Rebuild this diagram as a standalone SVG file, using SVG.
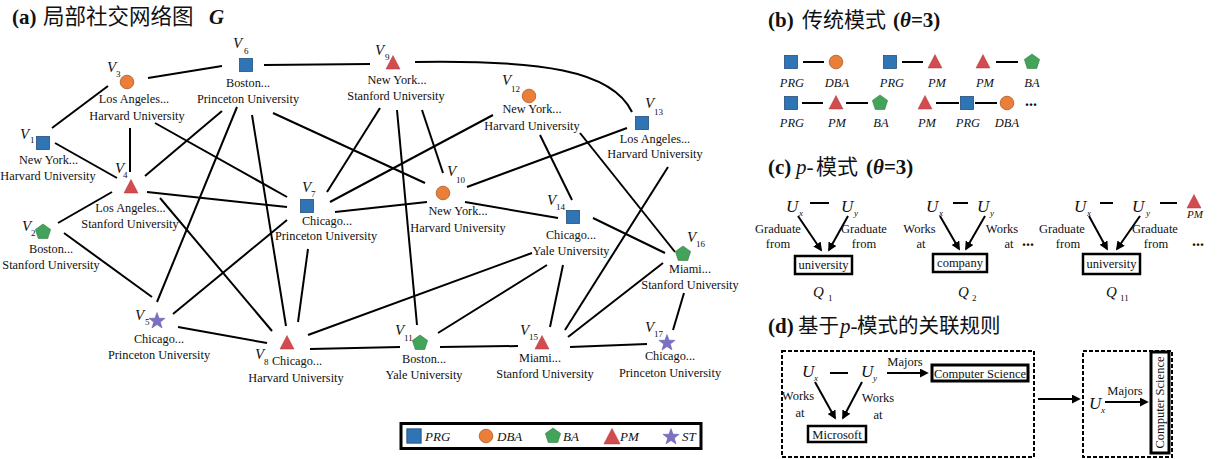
<svg xmlns="http://www.w3.org/2000/svg" width="1219" height="459" viewBox="0 0 1219 459" font-family="'Liberation Serif', 'DejaVu Serif', 'Times New Roman', serif">
<style>
text{font-family:'Liberation Serif','DejaVu Serif','Times New Roman',serif;fill:#111}
.nl{font-size:12.3px;text-anchor:middle}
.v{font-size:15px;font-style:italic}
.s{font-size:9px}
text.cn{font-family:'Noto Sans CJK SC','Noto Sans',sans-serif}
.b{font-weight:bold}
.it{font-style:italic}
.lbl{font-size:12.5px;text-anchor:middle}
.ilbl{font-size:12.5px;font-style:italic;text-anchor:middle}
.U{font-size:17px;font-style:italic}
.us{font-size:9px;font-style:italic}
.ed line,.ed path{stroke:#000;stroke-width:2;fill:none}
.ln{stroke:#000;stroke-width:2}
.arr{stroke:#000;stroke-width:2;marker-end:url(#ah)}
.bx{fill:#fff;stroke:#000;stroke-width:2.5}
.dash{fill:none;stroke:#000;stroke-width:2;stroke-dasharray:4 2}
</style>
<defs>
<rect id="sq" x="-6.5" y="-6.5" width="13" height="13" fill="#2F74B5" stroke="#23507c" stroke-width="0.8"/>
<circle id="ci" r="6.8" fill="#EB7F3A" stroke="#a85a22" stroke-width="0.8"/>
<polygon id="pe" points="0,-8 7.61,-2.47 4.7,6.47 -4.7,6.47 -7.61,-2.47" fill="#43A35A" stroke="#2f7a41" stroke-width="0.6"/>
<polygon id="tr" points="0,-7.5 7,6 -7,6" fill="#D24B4F" stroke="#b03a3e" stroke-width="0.5"/>
<polygon id="st" points="0,-8.5 2.06,-2.83 8.08,-2.63 3.33,1.08 5,6.88 0,3.5 -5,6.88 -3.33,1.08 -8.08,-2.63 -2.06,-2.83" fill="#7B70C2" stroke="#5d54a0" stroke-width="0.5"/>
<marker id="ah" viewBox="0 0 10 10" refX="8" refY="5" markerWidth="4.5" markerHeight="4.5" orient="auto" markerUnits="strokeWidth"><path d="M0,0 L10,5 L0,10 z" fill="#000"/></marker>
</defs>
<rect width="1219" height="459" fill="#fff"/>

<g id="title-a">
<text x="12" y="24" font-size="21" class="b">(a)</text>
<text x="43" y="24" font-size="21.5" class="cn">局部社交网络图</text>
<text x="209" y="24" font-size="21" class="b it">G</text>
</g>

<g id="connectors" class="ed">
<line x1="52" y1="128" x2="108" y2="86"/>
<line x1="148" y1="78" x2="222" y2="66"/>
<line x1="264" y1="65" x2="370" y2="64"/>
<path d="M415,62 C540,60 612,70 632,112"/>
<line x1="130" y1="128" x2="130" y2="172"/>
<line x1="55" y1="143" x2="117" y2="178"/>
<line x1="112" y1="192" x2="58" y2="223"/>
<line x1="64" y1="233" x2="152" y2="297"/>
<line x1="145" y1="176" x2="222" y2="111"/>
<line x1="155" y1="123" x2="287" y2="197"/>
<line x1="147" y1="192" x2="287" y2="207"/>
<line x1="160" y1="198" x2="272" y2="331"/>
<line x1="237" y1="107" x2="157" y2="302"/>
<line x1="252" y1="115" x2="286" y2="326"/>
<line x1="273" y1="113" x2="425" y2="183"/>
<line x1="173" y1="314" x2="287" y2="220"/>
<line x1="308" y1="249" x2="298" y2="322"/>
<line x1="327" y1="192" x2="380" y2="108"/>
<line x1="330" y1="202" x2="493" y2="115"/>
<line x1="335" y1="212" x2="427" y2="202"/>
<line x1="422" y1="110" x2="443" y2="173"/>
<line x1="397" y1="110" x2="417" y2="325"/>
<line x1="467" y1="187" x2="627" y2="128"/>
<line x1="465" y1="202" x2="558" y2="218"/>
<line x1="540" y1="135" x2="572" y2="200"/>
<line x1="580" y1="133" x2="675" y2="252"/>
<line x1="668" y1="167" x2="565" y2="330"/>
<line x1="593" y1="218" x2="665" y2="253"/>
<line x1="563" y1="265" x2="550" y2="327"/>
<line x1="547" y1="265" x2="438" y2="333"/>
<line x1="308" y1="335" x2="532" y2="253"/>
<line x1="663" y1="263" x2="568" y2="337"/>
<line x1="684" y1="293" x2="673" y2="330"/>
<line x1="570" y1="347" x2="647" y2="344"/>
<line x1="440" y1="347" x2="518" y2="346"/>
<line x1="310" y1="349" x2="400" y2="347"/>
<line x1="178" y1="327" x2="267" y2="343"/>
</g>

<g id="v1"><use href="#sq" x="43" y="143"/><text class="v" x="20" y="139">V</text><text class="s" x="30" y="143">1</text>
<text class="nl" x="48.5" y="164">New York...</text><text class="nl" x="48" y="180">Harvard University</text></g>
<g id="v2"><use href="#pe" x="43" y="232"/><text class="v" x="22" y="231">V</text><text class="s" x="31" y="236">2</text>
<text class="nl" x="51" y="253">Boston...</text><text class="nl" x="51" y="269">Stanford University</text></g>
<g id="v3"><use href="#ci" x="127" y="82"/><text class="v" x="107" y="72">V</text><text class="s" x="116" y="77">3</text>
<text class="nl" x="134" y="103">Los Angeles...</text><text class="nl" x="137" y="120">Harvard University</text></g>
<g id="v4"><use href="#tr" x="131" y="187"/><text class="v" x="115" y="173">V</text><text class="s" x="123" y="178">4</text>
<text class="nl" x="130.5" y="212">Los Angeles...</text><text class="nl" x="130" y="228">Stanford University</text></g>
<g id="v5"><use href="#st" x="157" y="321"/><text class="v" x="135" y="320">V</text><text class="s" x="145" y="325">5</text>
<text class="nl" x="159" y="343">Chicago...</text><text class="nl" x="159" y="359">Princeton University</text></g>
<g id="v6"><use href="#sq" x="246" y="65"/><text class="v" x="233" y="48">V</text><text class="s" x="244" y="54">6</text>
<text class="nl" x="248" y="87">Boston...</text><text class="nl" x="248" y="103">Princeton University</text></g>
<g id="v7"><use href="#sq" x="307" y="206"/><text class="v" x="302" y="192">V</text><text class="s" x="311" y="197">7</text>
<text class="nl" x="327" y="225">Chicago...</text><text class="nl" x="326" y="240">Princeton University</text></g>
<g id="v8"><use href="#tr" x="287" y="343"/><text class="v" x="255" y="359">V</text><text class="s" x="264" y="365">8</text>
<text class="nl" x="297" y="365">Chicago...</text><text class="nl" x="296" y="382">Harvard University</text></g>
<g id="v9"><use href="#tr" x="393" y="63"/><text class="v" x="375" y="55">V</text><text class="s" x="385" y="60">9</text>
<text class="nl" x="397" y="84">New York...</text><text class="nl" x="396" y="100">Stanford University</text></g>
<g id="v10"><use href="#ci" x="443" y="193"/><text class="v" x="447" y="176">V</text><text class="s" x="456" y="183">10</text>
<text class="nl" x="458" y="215">New York...</text><text class="nl" x="458" y="232">Harvard University</text></g>
<g id="v11"><use href="#pe" x="420" y="343"/><text class="v" x="395" y="335">V</text><text class="s" x="404" y="341">11</text>
<text class="nl" x="424" y="363">Boston...</text><text class="nl" x="424" y="379">Yale University</text></g>
<g id="v12"><use href="#ci" x="529" y="96"/><text class="v" x="502" y="85">V</text><text class="s" x="511" y="92">12</text>
<text class="nl" x="532" y="113">New York...</text><text class="nl" x="532" y="130">Harvard University</text></g>
<g id="v13"><use href="#sq" x="642" y="123"/><text class="v" x="645" y="108">V</text><text class="s" x="654" y="115">13</text>
<text class="nl" x="655" y="143">Los Angeles...</text><text class="nl" x="655" y="158">Harvard University</text></g>
<g id="v14"><use href="#sq" x="573" y="217"/><text class="v" x="547" y="205">V</text><text class="s" x="556" y="210">14</text>
<text class="nl" x="571" y="239">Chicago...</text><text class="nl" x="571" y="255">Yale University</text></g>
<g id="v15"><use href="#tr" x="542" y="343"/><text class="v" x="520" y="335">V</text><text class="s" x="529" y="340">15</text>
<text class="nl" x="540" y="362">Miami...</text><text class="nl" x="545" y="378">Stanford University</text></g>
<g id="v16"><use href="#pe" x="683" y="254"/><text class="v" x="687" y="242">V</text><text class="s" x="696" y="247">16</text>
<text class="nl" x="690" y="273">Miami...</text><text class="nl" x="690" y="289">Stanford University</text></g>
<g id="v17"><use href="#st" x="667" y="343"/><text class="v" x="645" y="332">V</text><text class="s" x="654" y="337">17</text>
<text class="nl" x="670" y="360">Chicago...</text><text class="nl" x="670" y="377">Princeton University</text></g>

<g id="legend">
<rect x="401" y="423.5" width="300" height="25" fill="#fff" stroke="#000" stroke-width="3"/>
<use href="#sq" x="414" y="436" transform="translate(414,436) scale(1.1) translate(-414,-436)"/>
<text x="425" y="441" font-size="13" class="it">PRG</text>
<use href="#ci" x="486" y="436"/>
<text x="497" y="441" font-size="13" class="it">DBA</text>
<use href="#pe" x="553" y="436"/>
<text x="563" y="441" font-size="13" class="it">BA</text>
<use href="#tr" x="612" y="437" transform="translate(612,437) scale(1.15) translate(-612,-437)"/>
<text x="620" y="441" font-size="13" class="it">PM</text>
<use href="#st" x="671" y="437"/>
<text x="682" y="441" font-size="13" class="it">ST</text>
</g>

<g id="panel-b">
<text x="768" y="27" font-size="21" class="b">(b)</text>
<text x="802" y="27" font-size="21" class="cn">传统模式</text>
<text x="893" y="27" font-size="21" class="b">(<tspan class="it">θ</tspan>=3)</text>
<use href="#sq" x="791" y="62"/><line class="ln" x1="803" y1="62" x2="824" y2="62"/><use href="#ci" x="836" y="62"/>
<use href="#sq" x="890" y="62"/><line class="ln" x1="902" y1="62" x2="923" y2="62"/><use href="#tr" x="935" y="62"/>
<use href="#tr" x="983" y="62"/><line class="ln" x1="996" y1="62" x2="1018" y2="62"/><use href="#pe" x="1032" y="62"/>
<text class="ilbl" x="792" y="87">PRG</text><text class="ilbl" x="837" y="87">DBA</text>
<text class="ilbl" x="892" y="87">PRG</text><text class="ilbl" x="937" y="87">PM</text>
<text class="ilbl" x="985" y="87">PM</text><text class="ilbl" x="1032" y="87">BA</text>
<use href="#sq" x="791" y="103"/><line class="ln" x1="802" y1="103" x2="823" y2="103"/><use href="#tr" x="836" y="103"/>
<line class="ln" x1="846" y1="103" x2="868" y2="103"/><use href="#pe" x="880" y="103"/>
<use href="#tr" x="925" y="103"/><line class="ln" x1="936" y1="103" x2="959" y2="103"/><use href="#sq" x="967" y="103"/>
<line class="ln" x1="975" y1="103" x2="997" y2="103"/><use href="#ci" x="1007" y="103"/>
<text x="1025" y="106" font-size="16" class="b">...</text>
<text class="ilbl" x="792" y="127">PRG</text><text class="ilbl" x="837" y="127">PM</text><text class="ilbl" x="881" y="127">BA</text>
<text class="ilbl" x="927" y="127">PM</text><text class="ilbl" x="968" y="127">PRG</text><text class="ilbl" x="1007" y="127">DBA</text>
</g>

<g id="panel-c">
<text x="768" y="174" font-size="21" class="b">(c)</text>
<text x="796" y="174" font-size="21" class="it">p-</text>
<text x="816" y="174" font-size="21" class="cn">模式</text>
<text x="866" y="174" font-size="21" class="b">(<tspan class="it">θ</tspan>=3)</text>
</g>
<g id="q1">
<text class="U" x="786" y="212">U</text><text class="us" x="799" y="216">x</text>
<line class="ln" x1="810" y1="203" x2="829" y2="203"/>
<text class="U" x="841" y="212">U</text><text class="us" x="854" y="216">y</text>
<line class="arr" x1="798" y1="216" x2="821" y2="250"/>
<line class="arr" x1="848" y1="216" x2="829" y2="250"/>
<text class="lbl" x="778" y="233">Graduate</text><text class="lbl" x="778" y="248">from</text>
<text class="lbl" x="864" y="233">Graduate</text><text class="lbl" x="864" y="248">from</text>
<rect class="bx" x="795" y="256" width="57" height="18"/>
<text class="lbl" x="823.5" y="269">university</text>
<text x="813" y="297" font-size="15" class="it">Q</text><text class="s" x="828" y="301">1</text>
</g>
<g id="q2">
<text class="U" x="926" y="212">U</text><text class="us" x="939" y="216">x</text>
<line class="ln" x1="953" y1="203" x2="968" y2="203"/>
<text class="U" x="977" y="212">U</text><text class="us" x="990" y="216">y</text>
<line class="arr" x1="940" y1="216" x2="959" y2="249"/>
<line class="arr" x1="985" y1="216" x2="966" y2="249"/>
<text class="lbl" x="919.5" y="233">Works</text><text class="lbl" x="921" y="248">at</text>
<text class="lbl" x="1002" y="233">Works</text><text class="lbl" x="1009" y="248">at</text>
<rect class="bx" x="933" y="254" width="54" height="18"/>
<text class="lbl" x="960" y="267">company</text>
<text x="958" y="297" font-size="15" class="it">Q</text><text class="s" x="972" y="301">2</text>
<text x="1022" y="246" font-size="16" class="b">...</text>
</g>
<g id="q11">
<text class="U" x="1074" y="212">U</text><text class="us" x="1087" y="216">x</text>
<line class="ln" x1="1100" y1="203" x2="1113" y2="203"/>
<text class="U" x="1132" y="212">U</text><text class="us" x="1146" y="216">y</text>
<line class="ln" x1="1160" y1="203" x2="1177" y2="203"/>
<use href="#tr" x="1194" y="202"/>
<text x="1195" y="218" font-size="11" class="it" text-anchor="middle">PM</text>
<line class="arr" x1="1089" y1="216" x2="1107" y2="249"/>
<line class="arr" x1="1140" y1="216" x2="1117" y2="249"/>
<text class="lbl" x="1062" y="233">Graduate</text><text class="lbl" x="1068" y="248">from</text>
<text class="lbl" x="1155" y="233">Graduate</text><text class="lbl" x="1156" y="248">from</text>
<rect class="bx" x="1083" y="254" width="57" height="20"/>
<text class="lbl" x="1111.5" y="268">university</text>
<text x="1106" y="297" font-size="15" class="it">Q</text><text class="s" x="1120" y="301">11</text>
<text x="1192" y="246" font-size="16" class="b">...</text>
</g>

<g id="panel-d">
<text x="768" y="333" font-size="21" class="b">(d)</text>
<text x="798" y="333" font-size="20.5" class="cn">基于</text>
<text x="840" y="333" font-size="21" class="it">p-</text>
<text x="857" y="333" font-size="20.5" class="cn">模式的关联规则</text>
</g>
<g id="rule-left">
<rect class="dash" x="782" y="351" width="252" height="106"/>
<text class="U" x="802" y="377">U</text><text class="us" x="814" y="381">x</text>
<line class="ln" x1="830" y1="373" x2="848" y2="373"/>
<text class="U" x="861" y="377">U</text><text class="us" x="873" y="381">y</text>
<line class="arr" x1="887" y1="373" x2="927" y2="373"/>
<text class="lbl" x="905" y="366">Majors</text>
<rect x="932" y="365" width="96" height="16" fill="#fff" stroke="#000" stroke-width="3"/>
<text class="lbl" x="980" y="378">Computer Science</text>
<text class="lbl" x="798" y="400">Works</text><text class="lbl" x="800" y="417">at</text>
<text class="lbl" x="878" y="402">Works</text><text class="lbl" x="878" y="419">at</text>
<line class="arr" x1="815" y1="382" x2="835" y2="418"/>
<line class="arr" x1="862" y1="382" x2="843" y2="418"/>
<rect class="bx" x="808" y="426" width="58" height="16"/>
<text class="lbl" x="837" y="439">Microsoft</text>
</g>
<g id="rule-arrow"><line class="arr" x1="1038" y1="399" x2="1079" y2="399"/></g>
<g id="rule-right">
<rect class="dash" x="1083" y="351" width="89" height="106"/>
<text class="U" x="1089" y="409">U</text><text class="us" x="1101" y="413">x</text>
<text class="lbl" x="1125" y="395">Majors</text>
<line class="arr" x1="1105" y1="402" x2="1147" y2="402"/>
<rect x="1151" y="352" width="18" height="101" fill="#fff" stroke="#000" stroke-width="3"/>
<text class="lbl" transform="translate(1164,402.5) rotate(-90)">Computer Science</text>
</g>
</svg>
